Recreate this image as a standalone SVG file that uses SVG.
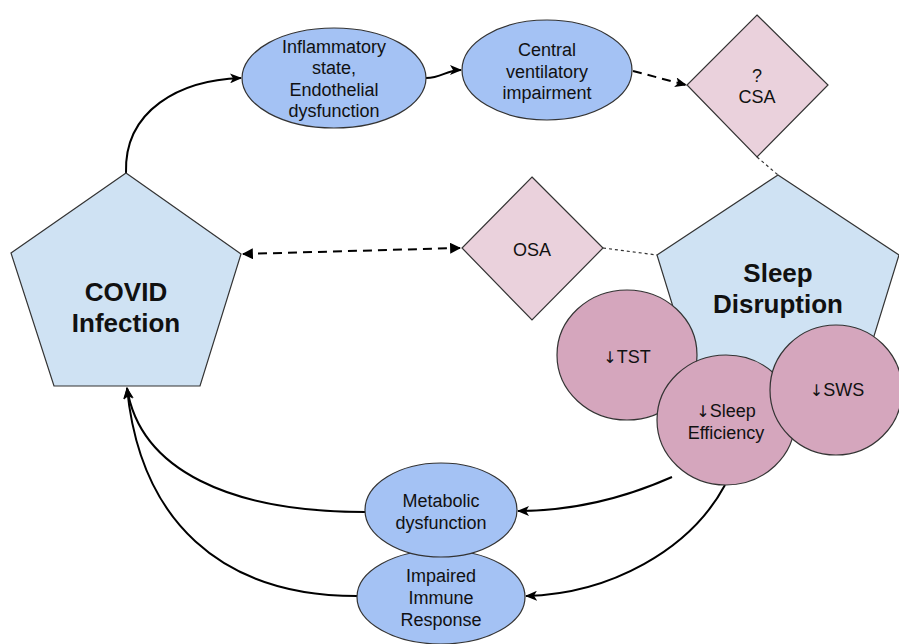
<svg xmlns="http://www.w3.org/2000/svg" width="899" height="644" viewBox="0 0 899 644">
<defs>
<style>
.pent{fill:#cfe2f3;stroke:#333;stroke-width:1.2}
.ell{fill:#a4c2f4;stroke:#333;stroke-width:1.2}
.dia{fill:#ead1dc;stroke:#333;stroke-width:1.2}
.circ{fill:#d5a6bd;stroke:#333;stroke-width:1.2}
text{font-family:"Liberation Sans",Arial,sans-serif;fill:#111;text-anchor:middle}
.t{font-size:18px}
.b{font-size:26px;font-weight:bold}
.ar{font-family:"DejaVu Sans",sans-serif;font-size:16px;fill:#111}
.c{fill:none;stroke:#000;stroke-width:2}
.d{fill:none;stroke:#000;stroke-width:2;stroke-dasharray:9 6}
.dot{fill:none;stroke:#333;stroke-width:1.2;stroke-dasharray:3 3}
</style>
<marker id="ah" viewBox="0 0 12 10" refX="11" refY="5" markerWidth="12" markerHeight="10" markerUnits="userSpaceOnUse" orient="auto">
<path d="M0,0 L12,5 L0,10 L3,5 z" fill="#000"/>
</marker>
<marker id="tri" viewBox="0 0 10 10" refX="9" refY="5" markerWidth="11" markerHeight="11" markerUnits="userSpaceOnUse" orient="auto-start-reverse">
<path d="M0,0 L10,5 L0,10 z" fill="#000"/>
</marker>
</defs>
<rect width="899" height="644" fill="#fff"/>
<g id="connectors">
<path class="c" d="M126,173 C124,110 180,80 241,78" marker-end="url(#ah)"/>
<path class="c" d="M426,78 C442,78 446,70 461,70" marker-end="url(#ah)"/>
<path class="d" d="M633,71 L686,85" marker-end="url(#ah)"/>
<path class="dot" d="M757,157 L778,175"/>
<path class="d" d="M243,254 L460,248" marker-start="url(#tri)" marker-end="url(#tri)"/>
<path class="dot" d="M603,248 L657,255"/>
<path class="c" d="M672,477 C620,500 570,511 518,511" marker-end="url(#ah)"/>
<path class="c" d="M725,485 C690,550 610,594 526,596" marker-end="url(#ah)"/>
<path class="c" d="M365,512 C230,512 140,470 127,388" marker-end="url(#ah)"/>
<path class="c" d="M357,596 C220,596 140,520 127,388" marker-end="url(#ah)"/>
</g>
<g id="covid">
<polygon class="pent" points="126,173 241,254 200,386 54,386 11,253"/>
<text class="b" x="126" y="301">COVID</text>
<text class="b" x="126" y="332">Infection</text>
</g>
<g id="inflammatory">
<ellipse class="ell" cx="334" cy="78" rx="92" ry="50"/>
<text class="t" x="334" y="53">Inflammatory</text>
<text class="t" x="334" y="74">state,</text>
<text class="t" x="334" y="96">Endothelial</text>
<text class="t" x="334" y="117">dysfunction</text>
</g>
<g id="central">
<ellipse class="ell" cx="547" cy="70" rx="85" ry="50"/>
<text class="t" x="547" y="56">Central</text>
<text class="t" x="547" y="78">ventilatory</text>
<text class="t" x="547" y="99">impairment</text>
</g>
<g id="csa">
<polygon class="dia" points="757,15 828,85 757,157 687,85"/>
<text class="t" x="757" y="82">?</text>
<text class="t" x="757" y="103">CSA</text>
</g>
<g id="osa">
<polygon class="dia" points="532,177 603,248 532,320 462,248"/>
<text class="t" x="532" y="256">OSA</text>
</g>
<g id="sleep">
<polygon class="pent" points="778,175 899,255 858,388 698,388 657,255"/>
<text class="b" x="778" y="282">Sleep</text>
<text class="b" x="778" y="313">Disruption</text>
</g>
<g id="tst">
<ellipse class="circ" cx="627" cy="355" rx="70" ry="65"/>
<text class="t" x="627" y="363"><tspan class="ar">↓</tspan>TST</text>
</g>
<g id="efficiency">
<ellipse class="circ" cx="726" cy="420" rx="69" ry="65"/>
<text class="t" x="726" y="417"><tspan class="ar">↓</tspan>Sleep</text>
<text class="t" x="726" y="439">Efficiency</text>
</g>
<g id="sws">
<ellipse class="circ" cx="836" cy="390" rx="66" ry="65"/>
<text class="t" x="837" y="396"><tspan class="ar">↓</tspan>SWS</text>
</g>
<g id="impaired">
<ellipse class="ell" cx="441" cy="597" rx="84" ry="47"/>
<text class="t" x="441" y="582">Impaired</text>
<text class="t" x="441" y="604">Immune</text>
<text class="t" x="441" y="626">Response</text>
</g>
<g id="metabolic">
<ellipse class="ell" cx="441" cy="510" rx="76" ry="47"/>
<text class="t" x="441" y="507">Metabolic</text>
<text class="t" x="441" y="529">dysfunction</text>
</g>
</svg>
